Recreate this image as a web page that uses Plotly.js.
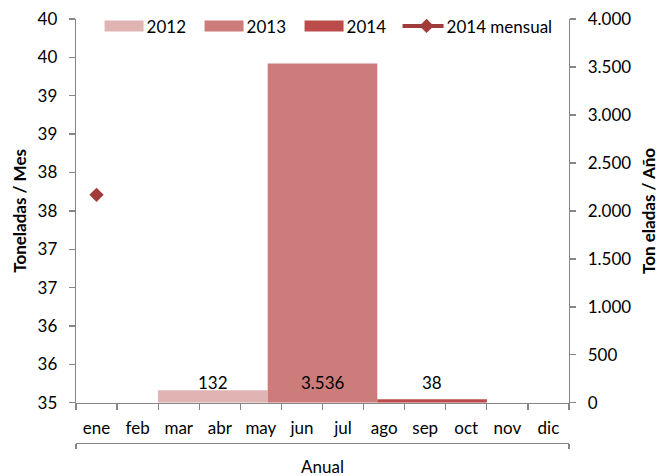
<!DOCTYPE html>
<html><head><meta charset="utf-8">
<script src="https://cdn.plot.ly/plotly-3.0.1.min.js"></script>
<style>html,body{margin:0;padding:0;background:#fff}</style>
</head><body><div id="chart" style="width:659px;height:476px"></div>
<script>
// ---- data ----
const months = ['ene','feb','mar','abr','may','jun','jul','ago','sep','oct','nov','dic'];
const monthly2014 = [37.71, null, null, null, null, null, null, null, null, null, null, null];
const annualCategory = ['Anual'];
const yearNames = ['2012', '2013', '2014'];
const yearTotals = [132, 3536, 38];
const monthlyName = '2014 mensual';
const leftTitle = 'Toneladas / Mes';
const rightTitle = 'Ton eladas / Año';

// ---- styles ----
const barColors = ['#E0B4B3', '#CC7D7B', '#BB4C4A'];
const lineColor = '#A03C3A';
const axisGray = '#868686';
const FONT = 'Lato, "Open Sans", sans-serif';
const BARGAP = 0.333;

function fmtThousands(v) {
  return String(v).replace(/\B(?=(\d{3})+(?!\d))/g, '.');
}

const traces = yearNames.map((n, i) => ({
  type: 'bar', name: n, x: annualCategory, y: [yearTotals[i]],
  xaxis: 'x2', yaxis: 'y2',
  marker: {color: barColors[i], line: {width: 0}},
  hoverinfo: 'skip'
}));
traces.push({
  type: 'scatter', mode: 'lines+markers', name: monthlyName,
  x: months, y: monthly2014, xaxis: 'x', yaxis: 'y',
  line: {color: lineColor, width: 4},
  marker: {symbol: 'diamond', size: 11, color: lineColor}
});

const w = (1 - BARGAP) / yearNames.length;
const annotations = yearTotals.map((v, i) => ({
  xref: 'x2', yref: 'y2', x: (i - (yearNames.length - 1) / 2) * w, y: 0,
  yanchor: 'bottom', yshift: 8, text: fmtThousands(v), showarrow: false,
  font: {family: FONT, size: 17, color: '#000'}
}));

const PLOT_TOP = 19, PLOT_BOTTOM = 402.8, PAPER_BOTTOM = 443, H = 476;
const domLow = (PAPER_BOTTOM - PLOT_BOTTOM) / (PAPER_BOTTOM - PLOT_TOP);

const layout = {
  width: 659, height: 476,
  margin: {l: 76, r: 90, t: PLOT_TOP, b: H - PAPER_BOTTOM, pad: 0, autoexpand: false},
  paper_bgcolor: '#fff', plot_bgcolor: 'rgba(0,0,0,0)',
  font: {family: FONT, size: 17, color: '#000'},
  separators: ',.',
  barmode: 'group', bargap: BARGAP, bargroupgap: 0,
  showlegend: true,
  legend: {orientation: 'h', x: 0.062, xanchor: 'left', y: 1.025, yanchor: 'top',
           bgcolor: 'rgba(0,0,0,0)', font: {family: FONT, size: 17, color: '#000'},
           traceorder: 'normal', entrywidth: 55, entrywidthmode: 'pixels'},
  xaxis: {type: 'category', anchor: 'y', domain: [0, 1], range: [-0.5, 11.5],
          showline: true, linecolor: axisGray, linewidth: 1.3,
          tickson: 'boundaries', ticks: 'outside', ticklen: 6, tickcolor: axisGray, tickwidth: 1.3,
          showgrid: false, zeroline: false, ticklabelstandoff: 9,
          tickfont: {family: FONT, size: 17, color: '#000'}},
  xaxis3: {type: 'linear', overlaying: 'x', anchor: 'y', range: [-0.5, 11.5],
           tickmode: 'array', tickvals: months.map((m, i) => i),
           ticks: 'inside', ticklen: 5, tickcolor: axisGray, tickwidth: 1.3,
           showticklabels: false, showline: false, showgrid: false, zeroline: false},
  xaxis2: {type: 'category', overlaying: 'x', anchor: 'free', position: 0, side: 'bottom',
           range: [-0.5, 0.5], showline: true, linecolor: axisGray, linewidth: 1.3,
           tickson: 'boundaries', ticks: 'outside', ticklen: 5, tickcolor: axisGray, tickwidth: 1.3,
           showgrid: false, zeroline: false, ticklabelstandoff: 8,
           tickfont: {family: FONT, size: 17, color: '#000'}},
  yaxis: {domain: [domLow, 1], range: [35, 40], tick0: 35, dtick: 0.5, tickformat: '.0f',
          showline: true, linecolor: axisGray, linewidth: 1.3,
          ticks: 'outside', ticklen: 6, tickcolor: axisGray, tickwidth: 1.3,
          showgrid: false, zeroline: false, ticklabelstandoff: 8,
          title: {text: '<b>' + leftTitle + '</b>', font: {family: FONT, size: 17, color: '#000'}, standoff: 6}},
  yaxis2: {domain: [domLow, 1], overlaying: 'y', side: 'right', anchor: 'x', range: [0, 4000], dtick: 500,
           tickformat: ',d', showline: true, linecolor: axisGray, linewidth: 1.3,
           ticks: 'outside', ticklen: 6, tickcolor: axisGray, tickwidth: 1.3,
           showgrid: false, zeroline: false, ticklabelstandoff: 8,
           title: {text: '<b>' + rightTitle + '</b>', font: {family: FONT, size: 17, color: '#000'}, standoff: 12}},
  annotations: annotations
};

Plotly.newPlot('chart', traces, layout, {staticPlot: true, displayModeBar: false}).then(() => {
  document.querySelectorAll('.legend [clip-path]').forEach(el => el.removeAttribute('clip-path'));
  const items = document.querySelectorAll('.legend .traces');
  items.forEach((g, i) => {
    if (i < yearNames.length) {
      g.querySelectorAll('.legendpoints path').forEach(p => p.setAttribute('d', 'M17,5.5H-22V-5.5H17Z'));
    } else {
      g.querySelectorAll('.legendlines path').forEach(p => p.setAttribute('d', 'M-4,0h41'));
    }
  });
});
</script></body></html>
